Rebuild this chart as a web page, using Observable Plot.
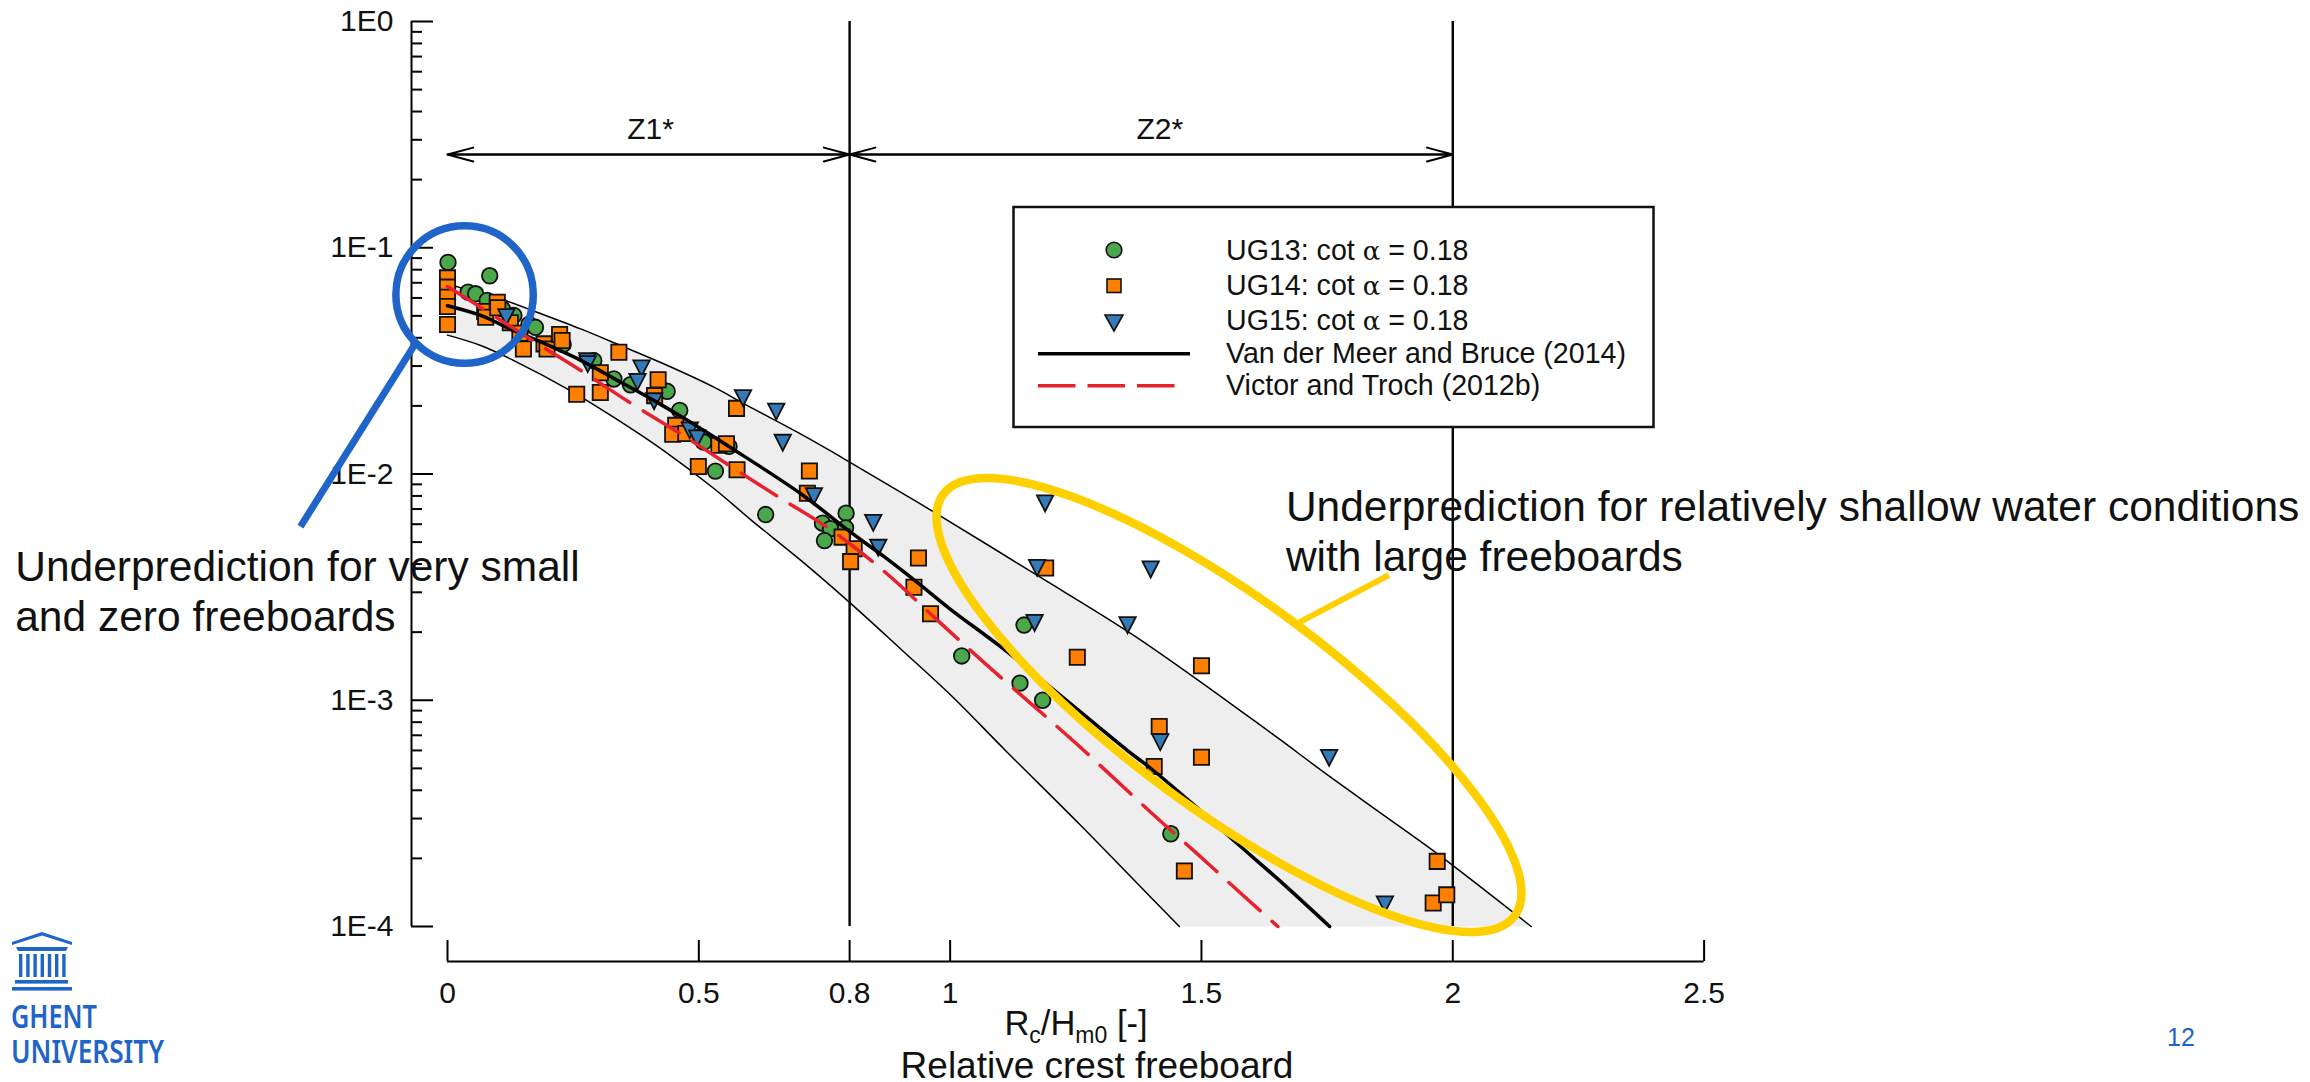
<!DOCTYPE html>
<html>
<head>
<meta charset="utf-8">
<style>html,body{margin:0;padding:0;background:#fff}svg{display:block}</style>
<script src="https://cdn.jsdelivr.net/npm/d3@7"></script>
<script src="https://cdn.jsdelivr.net/npm/@observablehq/plot@0.6"></script>
</head>
<body>
<div id="chart"></div>
<script>
const FONT = '"Liberation Sans", Arial, sans-serif';
// series: [relative freeboard, dimensionless discharge]
const ug13 = [[0.001,0.0861],[0.084,0.0752],[0.041,0.0636],[0.056,0.0626],[0.079,0.0585],[0.109,0.0537],[0.132,0.0502],[0.162,0.0458],[0.175,0.0445],[0.23,0.0374],[0.291,0.0317],[0.331,0.0263],[0.364,0.0248],[0.437,0.0232],[0.462,0.0191],[0.503,0.01465],[0.51,0.01383],[0.56,0.01324],[0.533,0.0103],[0.633,0.00662],[0.793,0.00671],[0.746,0.00606],[0.762,0.00573],[0.792,0.00578],[0.75,0.00508],[1.147,0.00215],[1.023,0.00157],[1.139,0.00119],[1.184,0.001],[1.439,0.000257]];
const ug14 = [[0,0.0736],[0,0.067],[0,0.0604],[0,0.055],[0,0.0458],[0.074,0.0523],[0.076,0.0493],[0.099,0.0574],[0.1,0.0543],[0.125,0.0466],[0.144,0.0419],[0.151,0.0357],[0.192,0.0376],[0.198,0.0357],[0.223,0.0414],[0.228,0.0389],[0.341,0.0345],[0.257,0.0225],[0.304,0.028],[0.304,0.0229],[0.419,0.0261],[0.412,0.0222],[0.454,0.0164],[0.448,0.015],[0.474,0.0151],[0.54,0.0134],[0.555,0.0136],[0.499,0.0108],[0.576,0.01044],[0.575,0.0195],[0.72,0.0103],[0.716,0.00822],[0.785,0.00526],[0.809,0.00467],[0.802,0.0041],[0.937,0.00425],[0.928,0.00316],[0.961,0.00241],[1.19,0.00384],[1.253,0.00155],[1.5,0.00142],[1.416,0.000766],[1.5,0.00056],[1.406,0.00051],[1.466,0.000176],[1.969,0.000194],[1.961,0.000127],[1.988,0.000138]];
const ug15 = [[0.117,0.0497],[0.278,0.0317],[0.279,0.0308],[0.386,0.0295],[0.378,0.0257],[0.411,0.0211],[0.482,0.0157],[0.497,0.01445],[0.588,0.0218],[0.654,0.019],[0.667,0.01383],[0.729,0.00804],[0.847,0.00612],[0.857,0.00475],[1.189,0.00746],[1.173,0.00387],[1.399,0.00381],[1.168,0.00221],[1.353,0.00216],[1.418,0.000657],[1.754,0.00056],[1.865,0.000126]];
const meanBruce = [[0,0.0554],[0.066,0.0502],[0.131,0.0431],[0.179,0.0389],[0.265,0.0318],[0.344,0.0255],[0.411,0.0211],[0.478,0.01724],[0.563,0.0131],[0.703,0.00818],[0.802,0.00553],[0.868,0.00432],[0.935,0.00331],[1,0.00253],[1.101,0.00172],[1.2,0.00114],[1.353,0.000599],[1.4,0.000498],[1.486,0.000343],[1.566,0.000238],[1.666,0.000152],[1.755,0.0001]];
const victorTroch = [[0,0.0674],[0.069,0.054],[0.169,0.0389],[0.268,0.0284],[0.364,0.0206],[0.464,0.01505],[0.563,0.01083],[0.659,0.0079],[0.762,0.00568],[0.872,0.00366],[0.968,0.00233],[1.067,0.00147],[1.167,0.00094],[1.266,0.0006],[1.399,0.00032],[1.489,0.000212],[1.588,0.000134],[1.652,0.0001]];
const upperBand = [[0,0.0693],[0.066,0.0626],[0.119,0.058],[0.178,0.0519],[0.265,0.0438],[0.344,0.037],[0.43,0.0307],[0.53,0.0242],[0.596,0.0201],[0.696,0.0153],[0.795,0.01147],[0.968,0.00678],[1.1735,0.00356],[1.366,0.00193],[1.598,0.000834],[1.654,0.000676],[1.757,0.000457],[1.863,0.00031],[1.969,0.00021],[2.156,0.0001]];
const lowerBand = [[0,0.0411],[0.066,0.037],[0.131,0.0318],[0.238,0.0238],[0.331,0.0178],[0.43,0.0127],[0.53,0.00863],[0.603,0.00629],[0.703,0.00415],[0.802,0.00268],[0.901,0.00169],[1,0.00106],[1.11,0.0006],[1.256,0.000285],[1.4,0.000134],[1.456,0.0001]];

const xTicks = [0, 0.5, 0.8, 1, 1.5, 2, 2.5];
const yMajor = [1, 0.1, 0.01, 0.001, 0.0001];
const yLabels = ["1E0", "1E-1", "1E-2", "1E-3", "1E-4"];
const yMinor = [];
for (const d of [0.1, 0.01, 0.001, 0.0001]) for (let m = 2; m <= 9; m++) yMinor.push(m * d);
const zoneLines = [0.8, 2];
const zones = [
  {label: "Z1*", from: 0, to: 0.8, labelX: 0.404},
  {label: "Z2*", from: 0.8, to: 2, labelX: 1.417}
];
const zoneArrowY = 0.2582, zoneLabelY = 0.335;
const yAxisX = -0.0716, xAxisY = 7.0e-5;

const legendRows = [
  {name: "UG13: cot ", alpha: true, y: 260},
  {name: "UG14: cot ", alpha: true, y: 295},
  {name: "UG15: cot ", alpha: true, y: 330},
  {name: "Van der Meer and Bruce (2014)", y: 363},
  {name: "Victor and Troch (2012b)", y: 395}
];

const GREEN = "#4aa84a", ORANGE = "#ff8000", BLUE = "#337ab7", RED = "#e8212f";
const UGENT = "#1f64c8", YELLOW = "#ffd000", INK = "#111";

const triangleDown = {
  draw(ctx, size) {
    const r = Math.sqrt(size / Math.PI);
    ctx.moveTo(-r, -r * 0.9);
    ctx.lineTo(r, -r * 0.9);
    ctx.lineTo(0, r * 1.05);
    ctx.closePath();
  }
};
const px = d => d[0], py = d => d[1];
const NS = "http://www.w3.org/2000/svg";
function el(tag, attrs, parent, text) {
  const e = document.createElementNS(NS, tag);
  for (const k in attrs) e.setAttribute(k, attrs[k]);
  if (text != null) e.textContent = text;
  if (parent) parent.appendChild(e);
  return e;
}

function legendMark() {
  const g = el("g", {"font-family": FONT, "text-anchor": "start"});
  el("rect", {x: 1013.5, y: 207, width: 640, height: 220, fill: "#fff", stroke: INK, "stroke-width": 2.5}, g);
  el("circle", {cx: 1114, cy: 250, r: 7.8, fill: GREEN, stroke: INK, "stroke-width": 1.6}, g);
  el("rect", {x: 1107, y: 279, width: 14, height: 13.5, fill: ORANGE, stroke: INK, "stroke-width": 1.6}, g);
  el("path", {d: "M1105,315H1123L1114,331Z", fill: BLUE, stroke: INK, "stroke-width": 1.6}, g);
  el("line", {x1: 1038, x2: 1190, y1: 353.7, y2: 353.7, stroke: "#000", "stroke-width": 3.5}, g);
  el("line", {x1: 1038, x2: 1176, y1: 385.7, y2: 385.7, stroke: RED, "stroke-width": 3.5, "stroke-dasharray": "37.5,12"}, g);
  for (const r of legendRows) {
    const t = el("text", {x: 1226, y: r.y, "font-size": 28.6, fill: INK}, g, r.name);
    if (r.alpha) {
      el("tspan", {"font-family": '"DejaVu Serif", serif', "font-size": 26}, t, "α");
      el("tspan", {}, t, " = 0.18");
    }
  }
  return g;
}

function extrasMark() {
  const g = el("g", {"font-family": FONT, "text-anchor": "start"});
  // yellow ellipse annotation
  el("ellipse", {cx: 1229, cy: 705, rx: 355, ry: 105, transform: "rotate(36.4 1229 705)", fill: "none", stroke: YELLOW, "stroke-width": 8.5}, g);
  // axis titles
  const t = el("text", {x: 1076, y: 1035, "text-anchor": "middle", "font-size": 34.5, fill: INK}, g, "R");
  el("tspan", {dy: 8, "font-size": 23}, t, "c");
  el("tspan", {dy: -8}, t, "/H");
  el("tspan", {dy: 8, "font-size": 23}, t, "m0");
  el("tspan", {dy: -8}, t, " [-]");
  el("text", {x: 1097, y: 1078, "text-anchor": "middle", "font-size": 37, fill: INK}, g, "Relative crest freeboard");
  el("text", {x: 2181, y: 1046, "text-anchor": "middle", "font-size": 25, fill: UGENT}, g, "12");
  // logo
  const logo = el("g", {fill: UGENT}, g);
  el("path", {d: "M12,942L42,932L72,942L72,945L42,935.5L12,945Z"}, logo);
  el("path", {d: "M16,947H68L66,951H18Z"}, logo);
  for (let i = 0; i < 7; i++) el("rect", {x: 19 + i * 7.2, y: 954, width: 3.4, height: 23}, logo);
  el("rect", {x: 15, y: 980, width: 53, height: 3.6}, logo);
  el("rect", {x: 12, y: 987, width: 60, height: 3.6}, logo);
  el("text", {x: 11, y: 1028, "font-family": '"Noto Sans", sans-serif', "font-weight": 600, "font-size": 33, textLength: 86, lengthAdjust: "spacingAndGlyphs"}, logo, "GHENT");
  el("text", {x: 11, y: 1063, "font-family": '"Noto Sans", sans-serif', "font-weight": 600, "font-size": 33, textLength: 153, lengthAdjust: "spacingAndGlyphs"}, logo, "UNIVERSITY");
  return g;
}

const chart = Plot.plot({
  width: 2310, height: 1082,
  marginLeft: 447, marginRight: 606.4, marginTop: 21, marginBottom: 156,
  style: {background: "#fff", fontFamily: FONT, color: INK, overflow: "visible"},
  x: {domain: [0, 2.5], axis: null},
  y: {type: "log", domain: [1e-4, 1], axis: null},
  marks: [
    // band
    Plot.line(upperBand.concat(lowerBand.slice().reverse()), {x: px, y: py, fill: "#eeeeee", stroke: "none", curve: "linear"}),
    Plot.line(upperBand, {x: px, y: py, stroke: "#000", strokeWidth: 1.5, curve: "catmull-rom"}),
    Plot.line(lowerBand, {x: px, y: py, stroke: "#000", strokeWidth: 1.5, curve: "catmull-rom"}),
    // zone lines
    Plot.ruleX(zoneLines, {stroke: "#000", strokeWidth: 2.4, y1: 1e-4, y2: 1}),
    // axes
    Plot.ruleX([yAxisX], {y1: 1e-4, y2: 1, stroke: "#000", strokeWidth: 2}),
    Plot.ruleY([xAxisY], {x1: 0, x2: 2.5, stroke: "#000", strokeWidth: 2}),
    Plot.axisY({anchor: "left", ticks: yMinor, tickSize: -11, tickFormat: () => "", dx: -36, strokeWidth: 2, stroke: "#000"}),
    Plot.axisY({anchor: "left", ticks: yMajor, tickSize: -22, tickPadding: 18 + 22, dx: -36, strokeWidth: 2, stroke: "#000", fontSize: 30, fill: INK, label: null, tickFormat: d => yLabels[yMajor.indexOf(d)] ?? ""}),
    Plot.axisX({anchor: "bottom", ticks: xTicks, tickSize: -21, tickPadding: 21 + 20, dy: 35, strokeWidth: 2, stroke: "#000", fontSize: 30, fill: INK, label: null, tickFormat: d => String(d)}),
    // data
    Plot.dot(ug13, {x: px, y: py, r: 7.8, symbol: "circle", fill: GREEN, stroke: INK, strokeWidth: 1.8}),
    Plot.dot(ug14, {x: px, y: py, r: 8.6, symbol: "square", fill: ORANGE, stroke: INK, strokeWidth: 1.8}),
    Plot.dot(ug15, {x: px, y: py, r: 8.2, symbol: triangleDown, fill: BLUE, stroke: INK, strokeWidth: 1.8}),
    // fit lines
    Plot.line(meanBruce, {x: px, y: py, stroke: "#000", strokeWidth: 3.5, curve: "catmull-rom"}),
    Plot.line(victorTroch, {x: px, y: py, stroke: RED, strokeWidth: 3.5, strokeDasharray: "42,16", curve: "catmull-rom"}),
    // zone arrows
    Plot.arrow(zones, {x1: d => d.to, x2: d => d.from, y1: zoneArrowY, y2: zoneArrowY, stroke: "#000", strokeWidth: 2, headLength: 20, headAngle: 30}),
    Plot.arrow(zones, {x1: d => d.from, x2: d => d.to, y1: zoneArrowY, y2: zoneArrowY, stroke: "#000", strokeWidth: 2, headLength: 20, headAngle: 30}),
    Plot.text(zones, {x: d => d.labelX, y: zoneLabelY, text: d => d.label, fontSize: 30, fill: INK}),
    // legend
    () => legendMark(),
    // circle annotation + leader
    Plot.link([0], {x1: -0.2925, y1: 0.00586, x2: -0.0637, y2: 0.03775, stroke: UGENT, strokeWidth: 7}),
    Plot.dot([0], {x: 0.034, y: 0.0621, r: 68.7, fill: "none", stroke: UGENT, strokeWidth: 7.5}),
    Plot.link([0], {x1: 1.684, y1: 0.00215, x2: 1.873, y2: 0.00357, stroke: YELLOW, strokeWidth: 6}),
    () => extrasMark(),
    // text annotations
    Plot.text(["Underprediction for relatively shallow water conditions\nwith large freeboards"], {
      x: 1.668, y: 0.00568, text: d => d, textAnchor: "start", lineAnchor: "middle", fontSize: 42.5, lineHeight: 1.18, fill: INK
    }),
    Plot.text(["Underprediction for very small\nand zero freeboards"], {
      x: -0.86, y: 0.00308, text: d => d, textAnchor: "start", lineAnchor: "middle", fontSize: 42.5, lineHeight: 1.18, fill: INK
    })
  ]
});
document.getElementById("chart").appendChild(chart);
</script>
</body>
</html>
